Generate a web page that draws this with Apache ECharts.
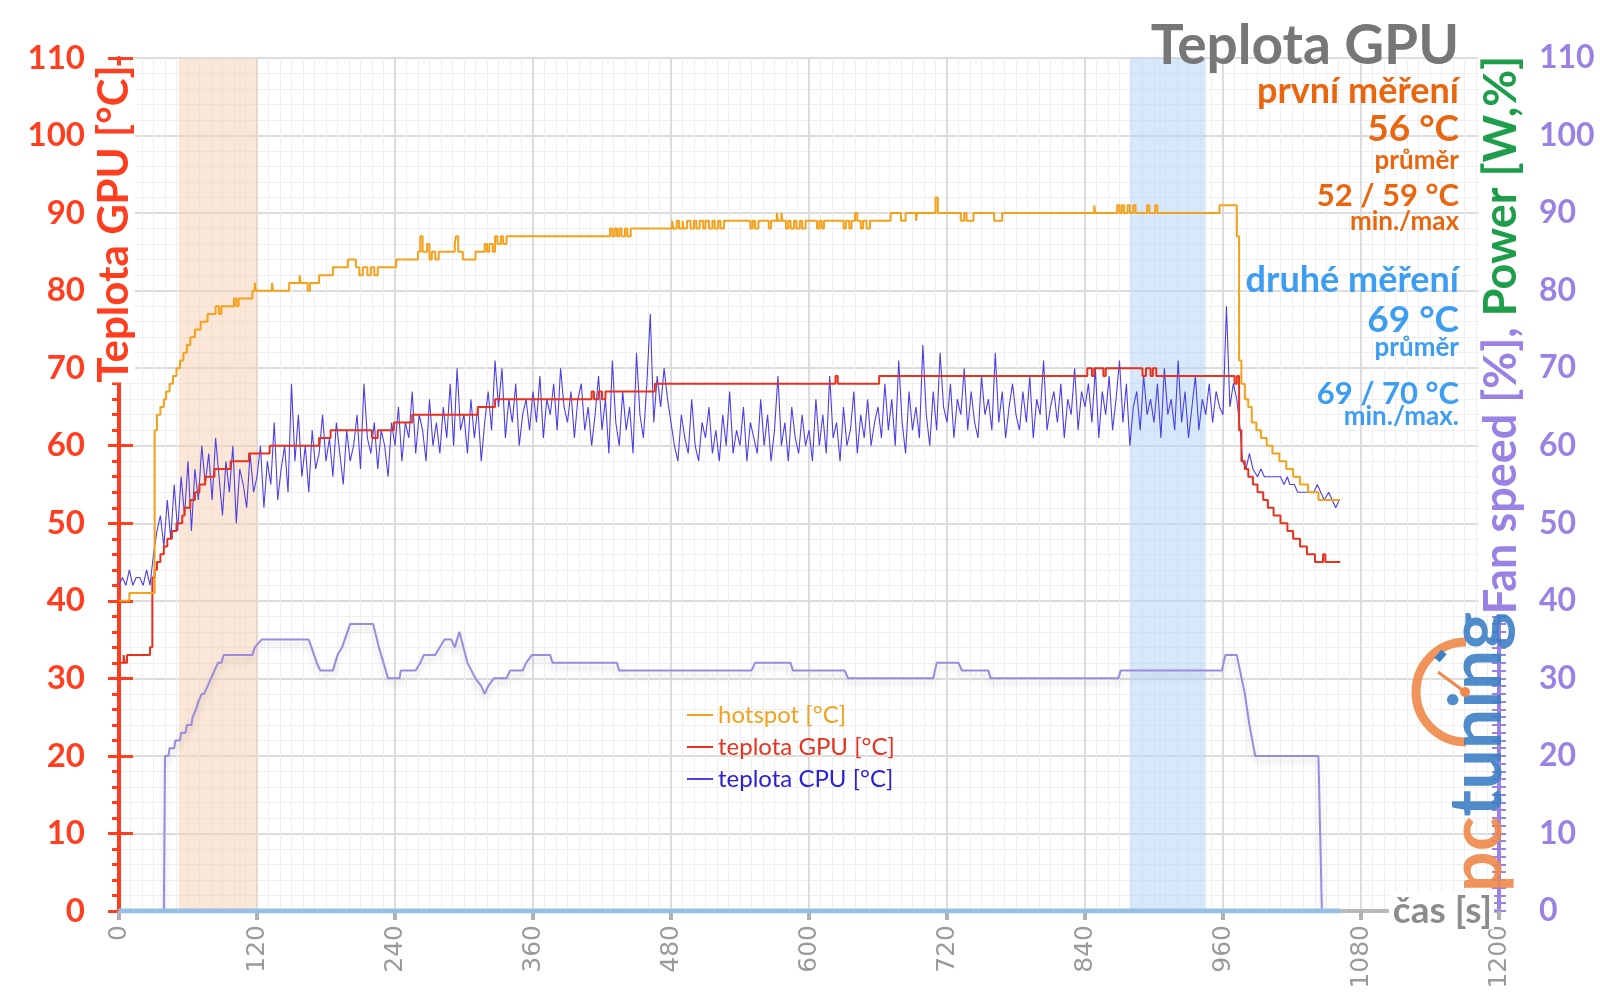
<!DOCTYPE html>
<html><head><meta charset="utf-8">
<script src="https://cdn.jsdelivr.net/npm/echarts@6/dist/echarts.min.js"></script>
<style>html,body{margin:0;padding:0;background:#fff}#c{width:1600px;height:1008px}</style>
</head><body><div id="c"></div>
<script>
// ---- data (time in seconds) ----
const hotspot = [[0,40],[9,41],[31,62],[33,64],[36,65],[39,66],[41,67],[44,68],[47,69],[50,70],[53,71],[56,72],[59,73],[62,74],[66,75],[71,76],[77,77],[84,78],[87,77],[89,78],[100,79],[102,78],[104,79],[116,80],[118,81],[119,80],[133,81],[134,80],[148,81],[157,82],[158,81],[164,80],[166,81],[174,82],[186,83],[199,84],[206,83],[209,82],[212,83],[216,82],[219,83],[222,82],[225,83],[241,84],[260,85],[262,87],[264,85],[268,86],[270,84],[272,85],[275,84],[278,85],[292,86],[293,87],[295,85],[299,84],[310,85],[318,86],[320,85],[322,86],[325,85],[327,87],[329,86],[332,87],[334,86],[337,87],[427,88],[429,87],[431,88],[433,87],[435,88],[437,87],[440,88],[442,87],[445,88],[481,89],[482,88],[485,89],[487,88],[490,89],[491,88],[494,89],[497,88],[500,89],[502,88],[505,89],[508,88],[510,89],[513,88],[516,89],[518,88],[521,89],[523,88],[526,89],[549,88],[551,89],[553,88],[556,89],[565,88],[567,89],[572,90],[573,89],[576,90],[577,89],[580,88],[582,89],[584,88],[587,89],[589,88],[592,89],[594,88],[597,89],[607,88],[609,89],[611,88],[613,89],[630,88],[632,89],[635,88],[637,89],[640,90],[642,89],[645,88],[647,89],[650,88],[653,89],[671,90],[680,89],[684,90],[693,89],[694,90],[710,92],[712,90],[732,89],[735,90],[737,89],[743,90],[761,89],[768,90],[848,91],[849,90],[868,91],[870,90],[872,91],[874,90],[877,91],[879,90],[882,91],[884,90],[894,91],[896,90],[901,91],[903,90],[957,91],[972,87],[974,71],[976,68],[979,66],[982,65],[985,63],[989,62],[993,61],[998,60],[1003,59],[1009,58],[1015,57],[1021,56],[1027,55],[1034,54],[1043,53],[1062,53]];

const gpuTemp = [[0,32],[4,33],[5,32],[7,33],[27,34],[29,43],[31,44],[33,45],[36,46],[39,47],[42,48],[46,49],[50,50],[55,51],[57,52],[62,53],[66,54],[70,55],[75,56],[83,57],[97,58],[113,59],[131,60],[174,61],[184,62],[220,61],[225,62],[239,63],[255,64],[312,65],[327,66],[411,67],[413,66],[417,67],[420,66],[423,67],[466,68],[623,69],[625,68],[661,69],[842,70],[846,69],[848,70],[856,69],[858,70],[890,69],[893,70],[897,69],[899,70],[902,69],[970,68],[972,69],[974,62],[976,58],[979,57],[982,56],[986,55],[990,54],[995,53],[999,52],[1004,51],[1010,50],[1016,49],[1021,48],[1027,47],[1033,46],[1040,45],[1047,46],[1049,45],[1062,45]];

const cpuStep = 3; // seconds between CPU samples below
const cpuValues = [
42,43,42,44,42,43,43,42,44,42,46,49,51,47,53,48,55,49,56,51,
58,49,57,53,60,55,59,53,61,56,51,58,54,60,50,57,55,52,59,54,
56,60,52,58,55,63,53,57,60,54,68,58,64,56,60,54,62,57,59,64,
58,61,56,63,59,55,62,58,60,64,57,68,61,59,63,57,62,60,56,63,
60,65,58,63,61,67,59,64,62,58,66,60,63,59,65,61,68,60,70,62,
64,59,66,61,65,58,63,67,62,71,65,70,61,66,63,68,60,64,66,62,
67,63,69,61,66,64,68,62,70,65,63,67,61,66,68,62,65,60,64,69,
62,66,59,71,63,60,67,62,65,59,72,64,61,68,77,63,69,65,70,66,
63,60,58,64,61,59,66,60,58,63,61,65,59,62,58,64,60,67,59,62,
60,65,58,63,61,59,66,60,64,58,62,69,60,63,58,65,61,59,64,60,
62,58,66,60,64,59,69,61,63,58,65,60,62,67,59,64,61,66,60,63,
65,61,68,62,66,60,71,63,59,67,62,65,61,73,64,60,67,62,72,65,
63,68,61,66,64,70,62,67,63,61,69,64,66,62,72,63,67,61,65,68,
64,62,67,63,69,61,66,64,71,62,65,67,63,68,61,66,64,70,62,67,
65,68,63,70,61,67,64,69,62,66,71,63,68,60,65,67,62,69,64,66,
63,68,61,70,64,66,62,71,63,67,61,65,69,62,66,64,68,63,67,65,
64,78,65,68,66];
const cpuTail = [[975,62],[977,58],[980,57],[983,59],[986,57],[990,56],[993,57],[996,56],[1000,56],[1005,56],[1010,56],[1013,55],[1016,56],[1018,55],[1022,55],[1025,54],[1030,54],[1035,54],[1039,54],[1042,55],[1045,54],[1048,53],[1052,54],[1055,53],[1058,52],[1061,53]];

const fanSpeed = [[0,0],[39,0],[40,20],[43,20],[44,21],[48,21],[49,22],[53,22],[54,23],[58,23],[59,24],[63,24],[64,25],[67,26],[69,27],[72,28],[74,28],[77,29],[80,30],[83,31],[86,32],[89,32],[91,33],[116,33],[118,34],[124,35],[165,35],[172,32],[175,31],[186,31],[190,33],[194,34],[201,37],[221,37],[226,34],[234,30],[244,30],[245,31],[258,31],[262,32],[265,33],[275,33],[279,34],[283,35],[289,35],[292,34],[296,36],[303,32],[310,30],[315,29],[318,28],[321,29],[326,30],[337,30],[340,31],[351,31],[354,32],[359,33],[375,33],[377,32],[433,32],[435,31],[550,31],[553,32],[584,32],[586,31],[631,31],[634,30],[708,30],[711,32],[730,32],[733,31],[756,31],[758,30],[869,30],[871,31],[959,31],[962,33],[972,33],[979,28],[983,24],[988,20],[1043,20],[1046,0]];

const power = [[0,0],[1062,0]];

const bandFirst = [52,120];   // první měření
const bandSecond = [879,945]; // druhé měření

const xMin = 0, xMax = 1200, xInterval = 120;
const yMin = 0, yMax = 110, yInterval = 10;

const cpuTemp = cpuValues.map((v,i)=>[i*cpuStep, v]).concat(cpuTail);

// ---- colours ----
const RED = '#ff3d1f', PURPLE = '#9a82e4', GRAY_TXT = '#9a9a9a';
const C_HOT = '#f4a11c', C_GPU = '#e8321e', C_CPU = '#4b3fe6', C_FAN = '#9b8be0', C_POW = '#96bfe6';
const ORANGE_TXT = '#e9650e', BLUE_TXT = '#3d9df0';

const chart = echarts.init(document.getElementById('c'), null, {renderer:'canvas'});

function yAxisBase(extra){
  return Object.assign({type:'value', min:yMin, max:yMax, interval:yInterval}, extra);
}

const option = {
  animation:false,
  backgroundColor:'#fff',
  grid:{left:119, right:101, top:58, bottom:97, containLabel:false},
  legend:{
    orient:'vertical', left:682, top:698, itemGap:8, itemWidth:26, itemHeight:2, icon:'rect',
    textStyle:{fontSize:24, fontFamily:'Lato'},
    selectedMode:false,
    data:[
      {name:'hotspot [°C]', textStyle:{color:C_HOT}},
      {name:'teplota GPU [°C]', textStyle:{color:C_GPU}},
      {name:'teplota CPU [°C]', textStyle:{color:'#2a20d8'}}
    ]
  },
  xAxis:{
    type:'value', min:xMin, max:xMax, interval:xInterval,
    axisLine:{show:true, onZero:false, lineStyle:{color:'#b9b9b9', width:4}},
    axisTick:{show:true, length:9, lineStyle:{color:'#b0b0b0', width:4}},
    axisLabel:{rotate:90, color:GRAY_TXT, fontSize:25, fontFamily:'DejaVu Sans', margin:14,
      formatter:function(v){return String(v);}},
    splitLine:{show:true, lineStyle:{color:'#dcdcdc', width:2}},
    minorTick:{show:false, splitNumber:12},
    minorSplitLine:{show:true, lineStyle:{color:'#efefef', width:1}}
  },
  yAxis:[
    yAxisBase({position:'left',
      axisLine:{show:true, lineStyle:{color:RED, width:4}},
      axisTick:{show:true, length:11, lineStyle:{color:RED, width:3}},
      minorTick:{show:true, splitNumber:5, length:7, lineStyle:{color:RED, width:3}},
      axisLabel:{color:RED, fontSize:33, fontWeight:'bold', fontFamily:'Lato', margin:34},
      splitLine:{show:true, lineStyle:{color:'#dcdcdc', width:2}},
      minorSplitLine:{show:true, lineStyle:{color:'#efefef', width:1}}
    }),
    yAxisBase({position:'right',
      axisLine:{show:true, lineStyle:{color:PURPLE, width:4}},
      axisTick:{show:true, length:7, lineStyle:{color:PURPLE, width:2}},
      minorTick:{show:true, splitNumber:10, length:7, lineStyle:{color:PURPLE, width:2}},
      axisLabel:{color:PURPLE, fontSize:32, fontWeight:'bold', fontFamily:'Lato', margin:40},
      splitLine:{show:false}
    }),
    yAxisBase({position:'left',
      axisLine:{show:false},
      axisTick:{show:true, inside:true, length:14, lineStyle:{color:RED, width:3}},
      axisLabel:{show:false}, splitLine:{show:false}
    }),
    yAxisBase({position:'right',
      axisLine:{show:false},
      axisTick:{show:true, inside:true, length:7, lineStyle:{color:PURPLE, width:2}},
      minorTick:{show:true, splitNumber:10, length:7, lineStyle:{color:PURPLE, width:2}},
      axisLabel:{show:false}, splitLine:{show:false}
    })
  ],
  series:[
    {name:'power', type:'line', yAxisIndex:1, data:power, symbol:'none', silent:true,
      lineStyle:{color:C_POW, width:5}, itemStyle:{color:C_POW}, z:3},
    {name:'fan', type:'line', yAxisIndex:1, data:fanSpeed, symbol:'none', silent:true,
      lineStyle:{color:C_FAN, width:2, shadowColor:'rgba(0,0,0,0.16)', shadowBlur:6, shadowOffsetY:5},
      itemStyle:{color:C_FAN}, z:2},
    {name:'teplota CPU [°C]', type:'line', yAxisIndex:0, data:cpuTemp, symbol:'none', silent:true,
      lineStyle:{color:C_CPU, width:1.1}, itemStyle:{color:C_CPU}, z:4},
    {name:'teplota GPU [°C]', type:'line', step:'end', yAxisIndex:0, data:gpuTemp, symbol:'none', silent:true,
      lineStyle:{color:C_GPU, width:2}, itemStyle:{color:C_GPU}, z:5},
    {name:'hotspot [°C]', type:'line', step:'end', yAxisIndex:0, data:hotspot, symbol:'none', silent:true,
      lineStyle:{color:C_HOT, width:2}, itemStyle:{color:C_HOT}, z:5,
      markArea:{silent:true, z:1, data:[
        [{xAxis:bandFirst[0], itemStyle:{color:'rgba(247,208,176,0.5)'}},{xAxis:bandFirst[1]}],
        [{xAxis:bandSecond[0], itemStyle:{color:'rgba(176,210,248,0.5)'}},{xAxis:bandSecond[1]}]
      ]}}
  ],
  graphic:[
    // axis names
    {type:'text', x:114, y:224, rotation:Math.PI/2, z:100,
      style:{text:'Teplota GPU [°C]', font:'bold 42px Lato', fill:RED, align:'center', verticalAlign:'middle', backgroundColor:'#fff'}},
    {type:'text', x:1501, y:335, rotation:Math.PI/2, z:100,
      style:{text:'{a|Fan speed [%],} {b|Power [W,%]}', font:'bold 45px Lato', fill:PURPLE, align:'center', verticalAlign:'middle', backgroundColor:'#fff',
        rich:{a:{font:'bold 45px Lato', fill:PURPLE}, b:{font:'bold 45px Lato', fill:'#1e9e4b'}}}},
    {type:'text', x:1494, y:911, z:100,
      style:{text:'čas [s]', font:'bold 37px Lato', fill:'#8c8c8c', align:'right', verticalAlign:'middle', backgroundColor:'#fff', padding:[0,2,0,4]}},
    // title & stats
    {type:'text', x:1459, y:46, z:100, style:{text:'Teplota GPU', font:'bold 55px Lato', fill:'#777', align:'right', verticalAlign:'middle'}},
    {type:'text', x:1459, y:91, z:100, style:{text:'první měření', font:'bold 36px Lato', fill:ORANGE_TXT, align:'right', verticalAlign:'middle'}},
    {type:'text', x:1459, y:129, z:100, style:{text:'56 °C', font:'bold 37px Lato', fill:ORANGE_TXT, align:'right', verticalAlign:'middle'}},
    {type:'text', x:1459, y:161, z:100, style:{text:'průměr', font:'bold 26px Lato', fill:ORANGE_TXT, align:'right', verticalAlign:'middle'}},
    {type:'text', x:1459, y:196, z:100, style:{text:'52 / 59 °C', font:'bold 31px Lato', fill:ORANGE_TXT, align:'right', verticalAlign:'middle'}},
    {type:'text', x:1459, y:222, z:100, style:{text:'min./max', font:'bold 26px Lato', fill:ORANGE_TXT, align:'right', verticalAlign:'middle'}},
    {type:'text', x:1459, y:280, z:100, style:{text:'druhé měření', font:'bold 36px Lato', fill:BLUE_TXT, align:'right', verticalAlign:'middle'}},
    {type:'text', x:1459, y:320, z:100, style:{text:'69 °C', font:'bold 37px Lato', fill:BLUE_TXT, align:'right', verticalAlign:'middle'}},
    {type:'text', x:1459, y:348, z:100, style:{text:'průměr', font:'bold 26px Lato', fill:BLUE_TXT, align:'right', verticalAlign:'middle'}},
    {type:'text', x:1459, y:394, z:100, style:{text:'69 / 70 °C', font:'bold 31px Lato', fill:BLUE_TXT, align:'right', verticalAlign:'middle'}},
    {type:'text', x:1459, y:417, z:100, style:{text:'min./max.', font:'bold 26px Lato', fill:BLUE_TXT, align:'right', verticalAlign:'middle'}},
    // pctuning logo
    {type:'arc', z:50, shape:{cx:1466, cy:692, r:50, startAngle:Math.PI/2, endAngle:Math.PI*3/2, clockwise:true},
      style:{stroke:'#f0884a', lineWidth:9, fill:null, opacity:0.9}},
    {type:'line', z:51, shape:{x1:1438, y1:672, x2:1465, y2:692}, style:{stroke:'#f0884a', lineWidth:3}},
    {type:'circle', z:51, shape:{cx:1465, cy:692, r:5}, style:{fill:'#f0884a'}},
    {type:'line', z:51, shape:{x1:1437, y1:660, x2:1444, y2:652}, style:{stroke:'#3d7fc4', lineWidth:7}},
    {type:'text', x:1478, y:752, rotation:Math.PI/2, z:50,
      style:{text:'{p|pc}{t|tuning}', font:'bold 72px Lato', align:'center', verticalAlign:'middle', opacity:0.9,
        rich:{p:{font:'bold 72px Lato', fill:'#f0884a'}, t:{font:'bold 72px Lato', fill:'#3d7fc4'}}}}
  ]
};
chart.setOption(option);
</script>
</body></html>
